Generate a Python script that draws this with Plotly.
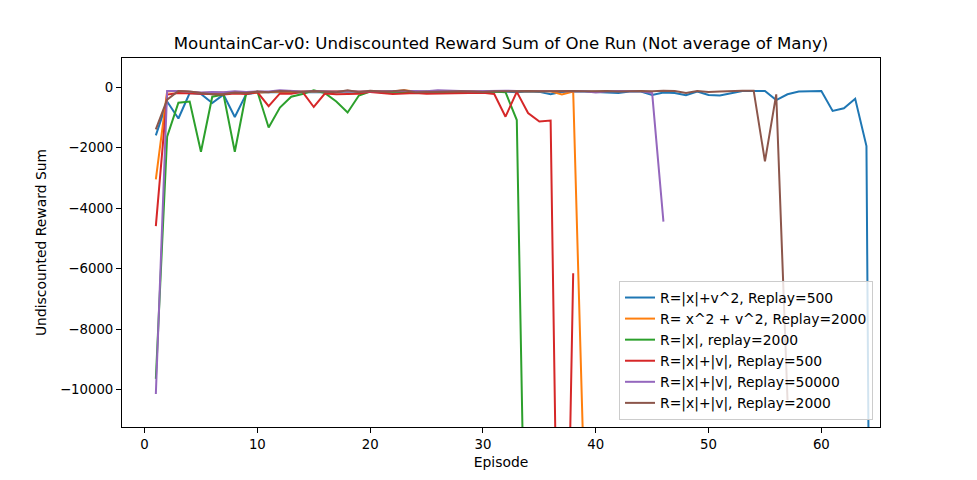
import plotly.graph_objects as go

labels = [
    "R=|x|+v^2, Replay=500",
    "R= x^2 + v^2, Replay=2000",
    "R=|x|, replay=2000",
    "R=|x|+|v|, Replay=500",
    "R=|x|+|v|, Replay=50000",
    "R=|x|+|v|, Replay=2000",
]
colors = ["#1f77b4", "#ff7f0e", "#2ca02c", "#d62728", "#9467bd", "#8c564b"]

blue = [-1600, -480, -1040, -200, -230, -530, -250, -990, -240, -180,
        -170, -160, -180, -170, -150, -160, -170, -150, -160, -170,
        -160, -150, -170, -160, -150, -160, -150, -160, -150, -170,
        -160, -150, -170, -150, -160, -240, -160, -140, -150, -160,
        -170, -200, -150, -150, -260, -180, -200, -270, -150, -260,
        -280, -200, -130, -130, -130, -430, -240, -150, -130, -130,
        -790, -700, -390, -1950, -55000]
orange = [-3050, -150, -130, -160, -200, -190, -180, -170, -200, -180,
          -170, -150, -160, -140, -150, -140, -150, -130, -150, -140,
          -130, -150, -110, -150, -140, -130, -140, -150, -140, -150,
          -140, -130, -140, -130, -130, -140, -245, -150, -13400]
green = [-9650, -1640, -520, -480, -2140, -320, -250, -2140, -220, -150,
         -1340, -680, -320, -230, -110, -200, -480, -840, -280, -150,
         -170, -150, -160, -170, -150, -190, -150, -160, -150, -170,
         -150, -170, -1090, -21400]
red = [-4600, -250, -200, -210, -230, -220, -250, -210, -230, -170,
       -630, -210, -220, -160, -660, -210, -240, -230, -220, -160,
       -190, -230, -210, -200, -220, -210, -200, -210, -200, -190,
       -230, -980, -160, -860, -1140, -1110, -26000, -6160]
purple = [-10150, -130, -130, -150, -180, -160, -170, -140, -160, -150,
          -150, -110, -130, -150, -130, -140, -150, -130, -150, -140,
          -130, -140, -130, -130, -140, -110, -130, -130, -140, -130,
          -130, -120, -130, -130, -140, -140, -130, -130, -140, -180,
          -140, -130, -130, -140, -200, -4450]
brown = [-1400, -420, -130, -150, -200, -240, -230, -180, -200, -150,
         -170, -130, -150, -160, -130, -150, -170, -110, -170, -120,
         -150, -140, -110, -170, -160, -140, -150, -140, -150, -160,
         -140, -130, -140, -130, -140, -130, -130, -130, -140, -130,
         -130, -150, -130, -130, -140, -120, -130, -200, -130, -160,
         -150, -130, -120, -120, -2460, -240, -10350]

series = [blue, orange, green, red, purple, brown]

x_ticks = [0, 10, 20, 30, 40, 50, 60]
y_ticks = [0, -2000, -4000, -6000, -8000, -10000]
y_ticktext = ["0", "\u22122000", "\u22124000", "\u22126000", "\u22128000", "\u221210000"]

fig = go.Figure()
for vals, name, col in zip(series, labels, colors):
    fig.add_trace(go.Scatter(
        x=list(range(1, len(vals) + 1)), y=vals, mode="lines", name=name,
        line=dict(color=col, width=2),
    ))

font = "DejaVu Sans, sans-serif"
W, H = 969, 472  # page body has an 8px margin
fig.update_layout(
    width=W, height=H,
    margin=dict(l=114, r=W - 114 - 758, t=50, b=H - 50 - 369),
    paper_bgcolor="white", plot_bgcolor="white",
    font=dict(family=font, size=13.9, color="black"),
    title=dict(text="MountainCar-v0: Undiscounted Reward Sum of One Run (Not average of Many)",
               x=(114 + 379) / W, xanchor="center", y=1 - 35 / H, yanchor="middle",
               font=dict(size=16.6, family=font, color="black")),
    showlegend=True,
    legend=dict(x=0.9908, xanchor="right", y=0.019, yanchor="bottom",
                bgcolor="rgba(255,255,255,0.8)", bordercolor="#cccccc", borderwidth=1,
                font=dict(size=13.9, family=font), itemwidth=30, tracegroupgap=0),
)
fig.update_xaxes(range=[-2.0, 65.2], tickvals=x_ticks, ticks="outside", ticklen=5, tickcolor="black",
                 tickfont=dict(size=13.3),
                 showline=True, linecolor="black", linewidth=1, mirror=True, showgrid=False,
                 zeroline=False, title=dict(text="Episode", standoff=6, font=dict(size=13.9)))
fig.update_yaxes(range=[-11240, 960], tickvals=y_ticks, ticktext=y_ticktext, ticks="outside", ticklen=5,
                 tickfont=dict(size=13.3),
                 tickcolor="black", showline=True, linecolor="black", linewidth=1, mirror=True,
                 showgrid=False, zeroline=False,
                 title=dict(text="Undiscounted Reward Sum", standoff=10, font=dict(size=13.9)))

fig.write_html("out.html")
